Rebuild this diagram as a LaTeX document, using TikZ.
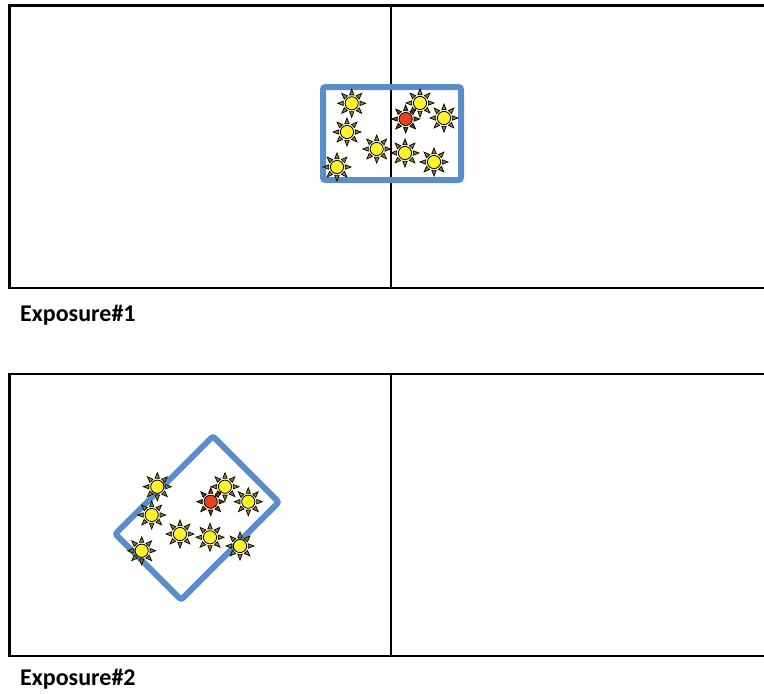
\documentclass[tikz,border=0pt]{standalone}
\usepackage{fontspec}
\usepackage{xcolor}
\usepackage{tikz}
\setmainfont{Carlito}
\definecolor{winblue}{HTML}{5B8DCB}
\definecolor{sunyel}{HTML}{FFF22A}
\definecolor{sunred}{HTML}{E8431C}

\begin{document}
\begin{tikzpicture}[x=1pt, y=-1pt,
    frame/.style={draw=black, line width=2.8pt},
    divider/.style={draw=black, line width=2pt},
    winbox/.style={draw=winblue, line width=6pt, rounded corners=2.5pt},
    caption/.style={font=\fontsize{24}{28}\selectfont\bfseries, anchor=base west, inner sep=0pt},
    pics/sun/.style={code={
        \foreach \a in {0,45,...,315}
          \filldraw[fill=#1!55!black!80!olive, draw=black, line width=0.7pt]
            (\a-15:8.6) -- (\a:14) -- (\a+15:8.6) -- cycle;
        \filldraw[fill=#1, draw=black, line width=0.8pt] (0,0) circle (6.6);
    }}]

    \useasboundingbox (0,0) rectangle (764,694);
    \clip (0,0) rectangle (764,694);

    % --- exposure 1 ------------------------------------------------------
    \draw[frame] (9.5,5.5) rectangle (790,288);
    \draw[divider] (390.5,5.5) -- (390.5,288);
    \draw[winbox] (323,87) rectangle (461,180);
    \node[caption] (expo1) at (20,321.7) {Exposure\#1};

    % suns
    \foreach \x/\y in {351.7/103.3, 347/132, 376.7/149, 337/167, 420/103,
                       444/118, 405/153, 434/162}
      \pic at (\x,\y) {sun=sunyel};
    \pic at (405.7,119) {sun=sunred};

    % --- exposure 2 ------------------------------------------------------
    \draw[frame] (9.5,374) rectangle (790,656);
    \draw[divider] (390.5,374) -- (390.5,656);
    \draw[winbox, rotate around={45:(197,518)}] (128,471.5) rectangle (266,564.5);
    \node[caption] (expo2) at (20,685) {Exposure\#2};

    % suns, box turned
    \foreach \x/\y in {157.3/486.7, 151.7/515, 141.7/550.7, 180/534, 210/537.3,
                       225/486.7, 248.3/501.7, 240/546}
      \pic at (\x,\y) {sun=sunyel};
    \pic at (210.7,501.7) {sun=sunred};
  \end{tikzpicture}
\end{document}
